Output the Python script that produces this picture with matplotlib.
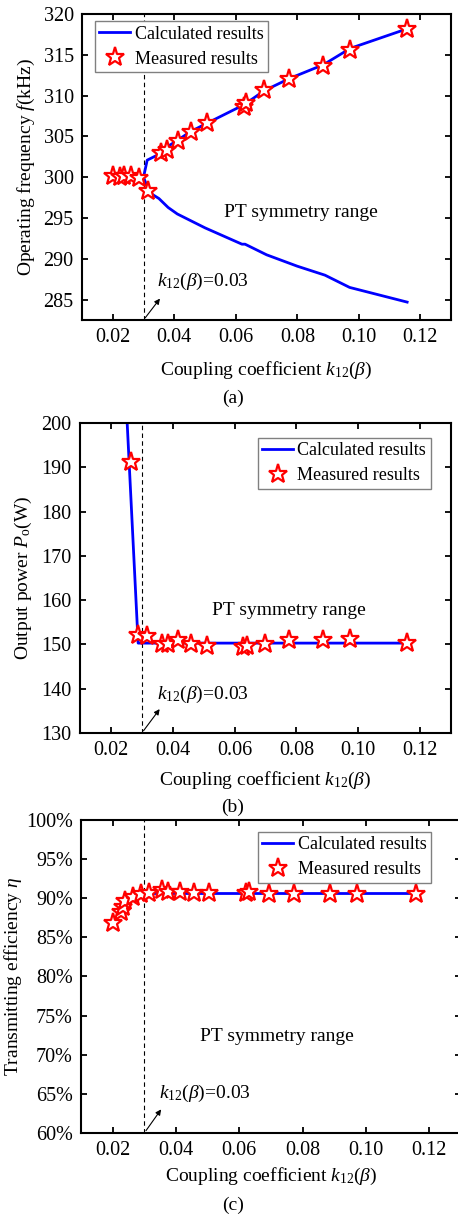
import matplotlib
matplotlib.use("Agg")
import matplotlib.pyplot as plt
import numpy as np

plt.rcParams['font.family'] = ['Liberation Serif', 'DejaVu Serif']
plt.rcParams['mathtext.fontset'] = 'custom'
plt.rcParams['mathtext.rm'] = 'Liberation Serif'
plt.rcParams['mathtext.it'] = 'Liberation Serif:italic'
plt.rcParams['font.size'] = 14

# ---- (a) operating frequency ----
fa_up_k = [0.020, 0.030, 0.0312, 0.036, 0.038, 0.0413, 0.0453, 0.0505, 0.0627, 0.0692, 0.0774, 0.0885, 0.0972, 0.1157]
fa_up_f = [300.0, 300.0, 302.1, 303.0, 303.8, 304.6, 305.6, 306.6, 308.9, 310.6, 312.1, 313.8, 315.8, 318.2]
fa_lo_k = [0.030, 0.032, 0.035, 0.038, 0.041, 0.050, 0.062, 0.063, 0.070, 0.080, 0.089, 0.097, 0.1157]
fa_lo_f = [300.0, 298.1, 297.4, 296.3, 295.5, 293.8, 291.8, 291.8, 290.5, 289.1, 288.0, 286.5, 284.7]
ma_k = [0.020, 0.0223, 0.0236, 0.0259, 0.0286, 0.0315, 0.0357, 0.0375, 0.0413, 0.0453, 0.0505, 0.0627, 0.0633, 0.0692, 0.0774, 0.0885, 0.0972, 0.1157]
ma_f = [300.1, 300.0, 300.1, 300.1, 299.9, 298.3, 303.0, 303.4, 304.5, 305.6, 306.6, 308.6, 309.1, 310.7, 312.1, 313.7, 315.6, 318.2]

# ---- (b) output power ----
pb_k = [0.0249, 0.0288, 0.031, 0.1157]
pb_p = [205.0, 150.3, 150.3, 150.3]
mb_k = [0.0265, 0.0289, 0.0318, 0.0366, 0.0386, 0.0418, 0.0460, 0.0510, 0.0628, 0.0639, 0.0697, 0.0776, 0.0886, 0.0974, 0.1157]
mb_p = [191.2, 152.2, 151.8, 150.2, 150.2, 150.9, 150.0, 149.7, 149.4, 149.7, 150.2, 150.9, 151.1, 151.2, 150.3]

# ---- (c) efficiency ----
ec_k = [0.020, 0.0226, 0.024, 0.0263, 0.029, 0.031, 0.1157]
ec_e = [86.8, 88.3, 89.4, 90.0, 90.5, 90.6, 90.6]
mc_k = [0.020, 0.0226, 0.0234, 0.0240, 0.0263, 0.0290, 0.0314, 0.0356, 0.0374, 0.0411, 0.0456, 0.0504, 0.0622, 0.0632, 0.0694, 0.0773, 0.0886, 0.0973, 0.1157]
mc_e = [86.8, 88.3, 88.9, 89.6, 90.2, 90.5, 90.7, 91.0, 90.8, 90.8, 90.7, 90.7, 90.7, 90.8, 90.6, 90.6, 90.6, 90.6, 90.6]

xticks = [0.02, 0.04, 0.06, 0.08, 0.10, 0.12]
xticklabels = ['0.02', '0.04', '0.06', '0.08', '0.10', '0.12']
xlabel = 'Coupling coefficient $k_{12}$($\\beta$)'
ktext = '$k_{12}$($\\beta$)=0.03'

fig = plt.figure(figsize=(4.58, 12.16), dpi=100)
axa = fig.add_axes([0.179, 0.7368, 0.806, 0.2516])
axb = fig.add_axes([0.1747, 0.3972, 0.810, 0.2549])
axc = fig.add_axes([0.1769, 0.0683, 0.8297, 0.2574])

star = dict(marker='*', markersize=14, markerfacecolor='white', markeredgecolor='red',
            markeredgewidth=1.6, linestyle='none')


def style(ax, ylim):
    ax.set_xlim(0.01, 0.13)
    ax.set_ylim(*ylim)
    ax.set_xticks(xticks)
    ax.set_xticklabels(xticklabels)
    ax.tick_params(direction='in', top=True, right=True, length=4, width=1.3, labelsize=14.5, pad=6)
    for s in ax.spines.values():
        s.set_linewidth(1.5)
    ax.axvline(0.03, color='black', linestyle='--', linewidth=0.8, dashes=(4, 3))


def legend(ax, loc, anchor):
    leg = ax.legend(loc=loc, bbox_to_anchor=anchor, fontsize=13, fancybox=False, framealpha=1,
                    edgecolor='gray', handlelength=1.7, handletextpad=0.25, borderpad=0.25,
                    labelspacing=0.45, borderaxespad=0.3)
    leg.get_frame().set_linewidth(1.0)


# (a)
style(axa, (282.5, 320))
axa.set_yticks([285, 290, 295, 300, 305, 310, 315, 320])
axa.plot(fa_lo_k, fa_lo_f, color='blue', linewidth=2)
axa.plot(fa_up_k, fa_up_f, color='blue', linewidth=2, label='Calculated results')
axa.plot(ma_k, ma_f, label='Measured results', **star)
legend(axa, 'upper left', (0.02, 0.995))
axa.text(0.0812, 295.7, 'PT symmetry range', ha='center', va='center', fontsize=14)
axa.text(0.0345, 287.2, ktext, ha='left', va='center', fontsize=14)
axa.annotate('', xy=(0.0359, 285.4), xytext=(0.030, 282.5),
             arrowprops=dict(arrowstyle='-|>', color='black', lw=0.8, mutation_scale=8))
axa.set_xlabel(xlabel, fontsize=14, labelpad=9)
axa.set_ylabel('Operating frequency $f$(kHz)', fontsize=14, labelpad=5)
fig.text(0.508, 1 - 398 / 1216, '(a)', ha='center', va='center', fontsize=14)

# (b)
style(axb, (130, 200))
axb.set_yticks([130, 140, 150, 160, 170, 180, 190, 200])
axb.plot(pb_k, pb_p, color='blue', linewidth=2, label='Calculated results')
axb.plot(mb_k, mb_p, label='Measured results', **star)
legend(axb, 'upper right', (0.96, 0.97))
axb.text(0.0775, 157.6, 'PT symmetry range', ha='center', va='center', fontsize=14)
axb.text(0.0348, 138.6, ktext, ha='left', va='center', fontsize=14)
axb.annotate('', xy=(0.0363, 135.9), xytext=(0.030, 130),
             arrowprops=dict(arrowstyle='-|>', color='black', lw=0.8, mutation_scale=8))
axb.set_xlabel(xlabel, fontsize=14, labelpad=7)
axb.set_ylabel('Output power $P_{\\mathrm{o}}$(W)', fontsize=14, labelpad=5)
fig.text(0.508, 1 - 807 / 1216, '(b)', ha='center', va='center', fontsize=14)

# (c)
style(axc, (60, 100))
axc.set_yticks([60, 65, 70, 75, 80, 85, 90, 95, 100])
axc.set_yticklabels(['60%', '65%', '70%', '75%', '80%', '85%', '90%', '95%', '100%'])
axc.plot(ec_k, ec_e, color='blue', linewidth=2, label='Calculated results')
axc.plot(mc_k, mc_e, label='Measured results', **star)
legend(axc, 'upper right', (0.935, 0.98))
axc.text(0.0719, 72.3, 'PT symmetry range', ha='center', va='center', fontsize=14)
axc.text(0.0346, 65.0, ktext, ha='left', va='center', fontsize=14)
axc.annotate('', xy=(0.0358, 63.3), xytext=(0.030, 60),
             arrowprops=dict(arrowstyle='-|>', color='black', lw=0.8, mutation_scale=8))
axc.set_xlabel(xlabel, fontsize=14, labelpad=4)
axc.set_ylabel('Transmitting efficiency $\\eta$', fontsize=14, labelpad=1)
fig.text(0.508, 1 - 1205 / 1216, '(c)', ha='center', va='center', fontsize=14)

fig.savefig('out.png', dpi=100)
